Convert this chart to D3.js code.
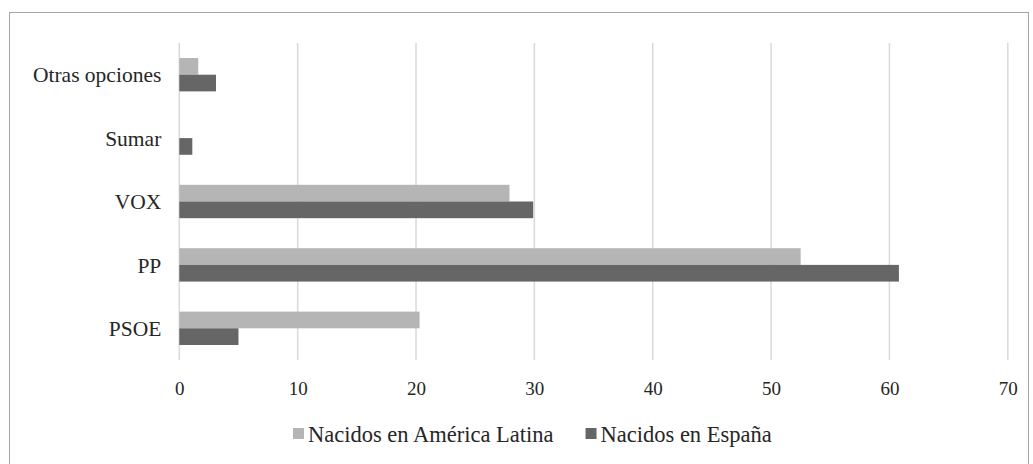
<!DOCTYPE html>
<html>
<head>
<meta charset="utf-8">
<script src="https://cdn.jsdelivr.net/npm/d3@7"></script>
<style>
  html, body { margin: 0; padding: 0; background: #fff; }
  svg { display: block; }
</style>
</head>
<body>
<svg id="chart" width="1033" height="464"></svg>
<script>
// Party categories, top to bottom
const categories = ["Otras opciones", "Sumar", "VOX", "PP", "PSOE"];
// Series names (legend order)
const seriesNames = ["Nacidos en América Latina", "Nacidos en España"];
// Vote share (%) per party
const latamValues = [1.6, 0, 27.9, 52.5, 20.3];
const spainValues = [3.1, 1.1, 29.9, 60.8, 5.0];
// Axis ticks
const xTicks = [0, 10, 20, 30, 40, 50, 60, 70];

const colors = { "Nacidos en América Latina": "#b5b5b5", "Nacidos en España": "#666666" };
const serif = '"Liberation Serif"';
const textColor = "#262626";

const rows = categories.map((c, i) => ({
  category: c,
  values: [
    { series: seriesNames[0], value: latamValues[i] },
    { series: seriesNames[1], value: spainValues[i] }
  ]
}));

const svg = d3.select("#chart");

// Outer frame
svg.append("rect")
  .attr("x", 9.5).attr("y", 12.5)
  .attr("width", 1019).attr("height", 460)
  .attr("fill", "none")
  .attr("stroke", "#a6a6a6")
  .attr("stroke-width", 1);

const plot = { left: 179.3, right: 1007.8, top: 43, bottom: 360 };

const x = d3.scaleLinear().domain([0, 70]).range([plot.left, plot.right]);
const y0 = d3.scaleBand().domain(categories).range([plot.top, plot.bottom]).padding(0);
const y1 = d3.scaleBand().domain(seriesNames).range([0, y0.bandwidth()])
  .paddingInner(0).paddingOuter(0.9);

// Vertical gridlines
svg.append("g")
  .selectAll("line")
  .data(xTicks)
  .join("line")
  .attr("x1", d => x(d)).attr("x2", d => x(d))
  .attr("y1", plot.top).attr("y2", plot.bottom)
  .attr("stroke", "#d9d9d9")
  .attr("stroke-width", 1.5);

// Bars
svg.append("g")
  .selectAll("g")
  .data(rows)
  .join("g")
  .attr("transform", d => `translate(0,${y0(d.category)})`)
  .selectAll("rect")
  .data(d => d.values.filter(v => v.value > 0))
  .join("rect")
  .attr("x", x(0))
  .attr("y", d => y1(d.series))
  .attr("width", d => x(d.value) - x(0))
  .attr("height", y1.bandwidth())
  .attr("fill", d => colors[d.series]);

// X axis labels
const xAxis = d3.axisBottom(x).tickValues(xTicks).tickSize(0).tickPadding(0).tickFormat(d3.format("d"));
const gx = svg.append("g").attr("transform", `translate(0,${plot.bottom + 21})`).call(xAxis);
gx.select(".domain").remove();
gx.selectAll("text")
  .style("font-family", serif)
  .style("font-size", "19px")
  .style("fill", textColor)
  .attr("dy", "0.71em");

// Y axis labels
const yAxis = d3.axisLeft(y0).tickSize(0).tickPadding(0);
const gy = svg.append("g").attr("transform", `translate(${plot.left - 18},0)`).call(yAxis);
gy.select(".domain").remove();
gy.selectAll("text")
  .style("font-family", serif)
  .style("font-size", "21.5px")
  .style("fill", textColor)
  .attr("dy", "0.36em");

// Legend
const legend = svg.append("g").attr("transform", "translate(293,428)");
let lx = 0;
seriesNames.forEach(name => {
  const item = legend.append("g").attr("transform", `translate(${lx},0)`);
  item.append("rect").attr("width", 11).attr("height", 11).attr("fill", colors[name]);
  const t = item.append("text")
    .attr("x", 15).attr("y", 13.5)
    .style("font-family", serif)
    .style("font-size", "22.5px")
    .style("fill", textColor)
    .text(name);
  lx += 15 + t.node().getComputedTextLength() + 32;
});
</script>
</body>
</html>
